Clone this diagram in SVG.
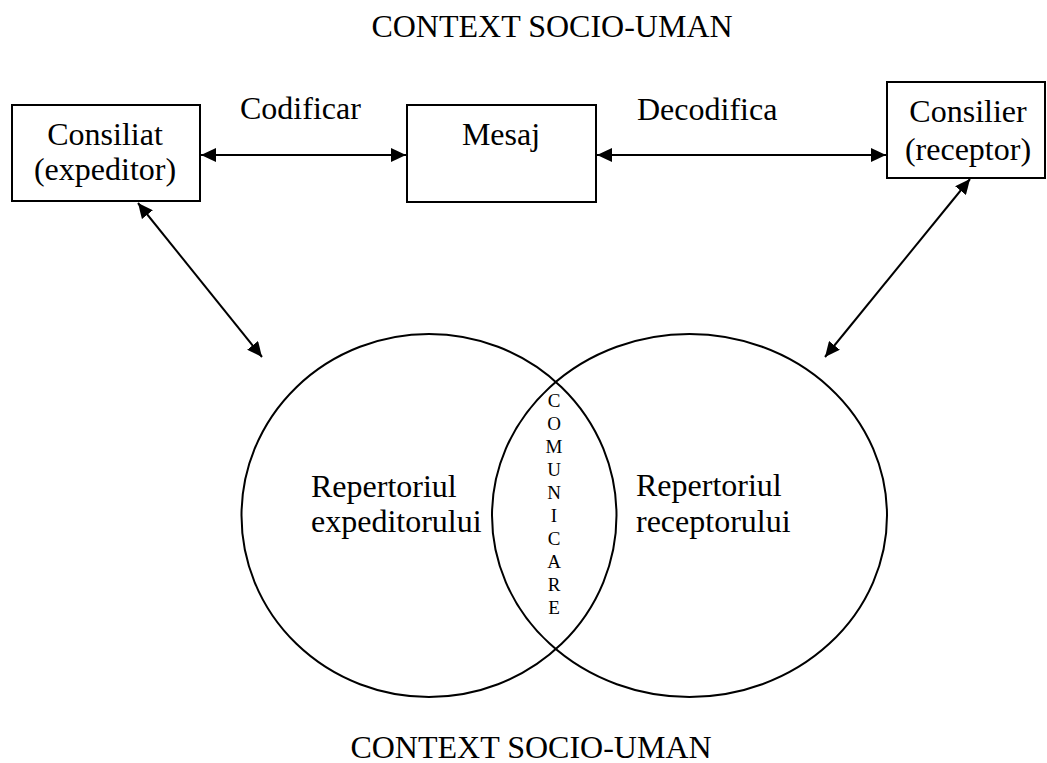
<svg xmlns="http://www.w3.org/2000/svg" width="1047" height="763" viewBox="0 0 1047 763">
  <style>
    .box { fill: #ffffff; stroke: #000000; stroke-width: 2; }
    .ring { fill: none; stroke: #000000; stroke-width: 2; }
    .link { fill: none; stroke: #000000; stroke-width: 2; }
    .t { font-family: "Liberation Serif", "Times New Roman", serif; font-size: 32px; fill: #000000; }
    .c { text-anchor: middle; }
    .v { font-family: "Liberation Serif", "Times New Roman", serif; font-size: 19px; fill: #000000; text-anchor: middle; }
  </style>
  <defs>
    <marker id="head" markerUnits="userSpaceOnUse" markerWidth="16" markerHeight="14" refX="15" refY="7" orient="auto-start-reverse">
      <path d="M0,0 L15,7 L0,14 Z" fill="#000000"/>
    </marker>
  </defs>
  <rect width="1047" height="763" fill="#ffffff"/>

  <text class="t c" x="552" y="37">CONTEXT SOCIO-UMAN</text>

  <g id="repertoriu-expeditor">
    <ellipse class="ring" cx="429" cy="515.5" rx="187.5" ry="181.5"/>
    <text class="t" x="311" y="497">Repertoriul</text>
    <text class="t" x="311" y="532">expeditorului</text>
  </g>

  <g id="repertoriu-receptor">
    <ellipse class="ring" cx="689.5" cy="515.5" rx="197.5" ry="181.5"/>
    <text class="t" x="636" y="496">Repertoriul</text>
    <text class="t" x="636" y="532">receptorului</text>
  </g>

  <g id="comunicare">
    <text class="v" x="554" y="407">C</text>
    <text class="v" x="554" y="430">O</text>
    <text class="v" x="554" y="453">M</text>
    <text class="v" x="554" y="476">U</text>
    <text class="v" x="554" y="499">N</text>
    <text class="v" x="554" y="522">I</text>
    <text class="v" x="554" y="545">C</text>
    <text class="v" x="554" y="568">A</text>
    <text class="v" x="554" y="591">R</text>
    <text class="v" x="554" y="614">E</text>
  </g>

  <g id="consiliat">
    <rect class="box" x="12" y="105" width="188" height="96"/>
    <text class="t c" x="105" y="145">Consiliat</text>
    <text class="t c" x="105" y="180">(expeditor)</text>
  </g>

  <g id="mesaj">
    <rect class="box" x="407" y="105" width="189" height="97"/>
    <text class="t c" x="501" y="145">Mesaj</text>
  </g>

  <g id="consilier">
    <rect class="box" x="887" y="82" width="158" height="96"/>
    <text class="t c" x="968" y="122">Consilier</text>
    <text class="t c" x="968" y="160">(receptor)</text>
  </g>

  <g id="connectors">
    <line class="link" x1="201" y1="155" x2="406" y2="155" marker-start="url(#head)" marker-end="url(#head)"/>
    <line class="link" x1="597" y1="155" x2="886" y2="155" marker-start="url(#head)" marker-end="url(#head)"/>
    <line class="link" x1="138" y1="203" x2="262" y2="357" marker-start="url(#head)" marker-end="url(#head)"/>
    <line class="link" x1="970" y1="179" x2="825" y2="357" marker-start="url(#head)" marker-end="url(#head)"/>
    <text class="t" x="240" y="119">Codificar</text>
    <text class="t" x="637" y="120">Decodifica</text>
  </g>

  <text class="t c" x="531" y="758">CONTEXT SOCIO-UMAN</text>
</svg>
